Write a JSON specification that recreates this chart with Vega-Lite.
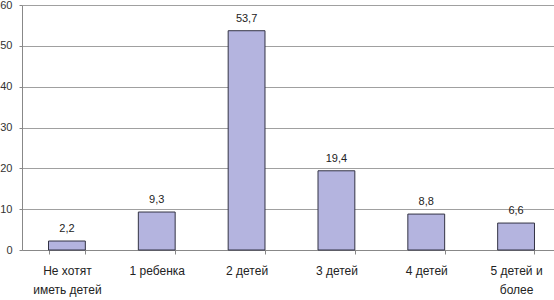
{
  "$schema": "https://vega.github.io/schema/vega-lite/v6.json",
  "autosize": "none",
  "width": 539,
  "height": 245,
  "padding": {"left": 22, "top": 5, "right": -7, "bottom": 50},
  "background": "white",
  "config": {
    "locale": {"number": {"decimal": ",", "thousands": " ", "grouping": [3], "currency": ["", ""]}},
    "view": {"stroke": null},
    "font": "Liberation Sans"
  },
  "data": {
    "values": [
      {"cat": "Не хотят|иметь детей", "v": 2.2},
      {"cat": "1 ребенка", "v": 9.3},
      {"cat": "2 детей", "v": 53.7},
      {"cat": "3 детей", "v": 19.4},
      {"cat": "4 детей", "v": 8.8},
      {"cat": "5 детей и|более", "v": 6.6}
    ]
  },
  "encoding": {
    "x": {
      "field": "cat", "type": "nominal", "sort": null,
      "scale": {"paddingInner": 0.59, "paddingOuter": 0.295},
      "axis": {
        "title": null, "labelAngle": 0, "labelExpr": "split(datum.label, '|')",
        "labelFont": "Liberation Sans", "labelFontSize": 12, "labelColor": "#222",
        "labelLineHeight": 19, "labelPadding": 11, "labelLimit": 200,
        "tickBand": "extent", "tickSize": 4, "tickColor": "#888", "domainColor": "#888",
        "grid": false
      }
    },
    "y": {
      "field": "v", "type": "quantitative",
      "scale": {"domain": [0, 60], "nice": false},
      "axis": {
        "title": null, "values": [0, 10, 20, 30, 40, 50, 60],
        "labelFont": "Liberation Sans", "labelFontSize": 11, "labelColor": "#333",
        "tickSize": 3, "labelPadding": 7, "tickColor": "#888", "domainColor": "#888",
        "gridColor": "#a0a0a0", "gridOpacity": 1
      }
    }
  },
  "layer": [
    {"mark": {"type": "bar", "fill": "#b4b4df", "stroke": "#333344", "strokeWidth": 1}},
    {
      "mark": {"type": "text", "baseline": "bottom", "dy": -7, "font": "Liberation Sans", "fontSize": 11, "color": "#222"},
      "encoding": {"text": {"field": "v", "type": "quantitative", "format": ".1f"}}
    }
  ]
}
